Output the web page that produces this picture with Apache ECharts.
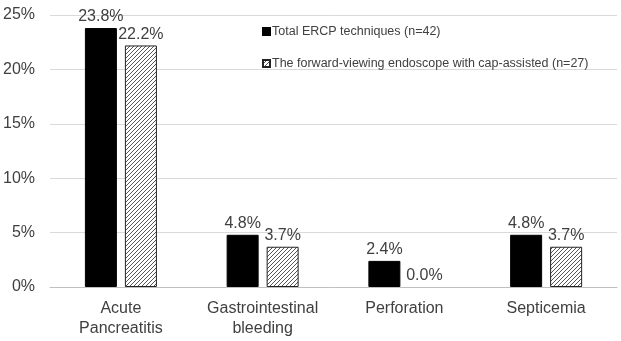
<!DOCTYPE html>
<html>
<head>
<meta charset="utf-8">
<script src="https://cdn.jsdelivr.net/npm/echarts@6/dist/echarts.min.js"></script>
<style>
  html, body { margin: 0; padding: 0; background: #fff; }
  #chart { width: 621px; height: 341px; }
</style>
</head>
<body>
<div id="chart"></div>
<script>
// 数据
var categories = ["Acute\nPancreatitis", "Gastrointestinal\nbleeding", "Perforation", "Septicemia"];
var seriesNames = ["Total ERCP techniques (n=42)", "The forward-viewing endoscope with cap-assisted (n=27)"];
var totalVals = [23.8, 4.8, 2.4, 4.8];
var capVals = [22.2, 3.7, 0.0, 3.7];

// 斜线填充
function makeHatch() {
  var c = document.createElement("canvas");
  c.width = 4;
  c.height = 4;
  var ctx = c.getContext("2d");
  ctx.fillStyle = "#fff";
  ctx.fillRect(0, 0, 4, 4);
  ctx.strokeStyle = "#555";
  ctx.lineWidth = 1;
  ctx.beginPath();
  ctx.moveTo(0, 4); ctx.lineTo(4, 0);
  ctx.moveTo(-1, 1); ctx.lineTo(1, -1);
  ctx.moveTo(3, 5); ctx.lineTo(5, 3);
  ctx.stroke();
  return c;
}

var textColor = "#404040";
var font = "Liberation Sans, Arial, sans-serif";
var myChart = echarts.init(document.getElementById("chart"));

var labelOpt = {
  show: true,
  position: "top",
  distance: 3,
  color: textColor,
  fontSize: 16,
  fontFamily: font,
  formatter: function (p) { return p.value.toFixed(1) + "%"; }
};

// 0值不画边框
function toItems(arr) {
  return arr.map(function (v) {
    return v === 0 ? { value: v, itemStyle: { borderWidth: 0, color: "rgba(0,0,0,0)" } } : v;
  });
}

var option = {
  animation: false,
  grid: { left: 50, right: 4, top: 15, bottom: 54 },
  legend: {
    orient: "vertical",
    left: 257,
    top: 20,
    itemGap: 19,
    itemWidth: 7,
    itemHeight: 7,
    icon: "rect",
    textStyle: { color: textColor, fontSize: 12.5, fontFamily: font, padding: [0, 0, 0, -3] },
    data: seriesNames
  },
  xAxis: {
    type: "category",
    data: categories,
    axisLine: { lineStyle: { color: "#bfbfbf", width: 1 } },
    axisTick: { show: false },
    axisLabel: { interval: 0, color: textColor, fontSize: 16, fontFamily: font, margin: 12, lineHeight: 20 }
  },
  yAxis: {
    type: "value",
    min: 0,
    max: 25,
    interval: 5,
    axisLine: { show: false },
    axisTick: { show: false },
    splitLine: { lineStyle: { color: "#d9d9d9", width: 1 } },
    axisLabel: { color: textColor, fontSize: 16, fontFamily: font, margin: 15, formatter: "{value}%" }
  },
  series: [
    {
      name: seriesNames[0],
      type: "bar",
      data: toItems(totalVals),
      barWidth: 32,
      barGap: "25%",
      itemStyle: { color: "#000", borderColor: "#000", borderWidth: 1 },
      label: labelOpt
    },
    {
      name: seriesNames[1],
      type: "bar",
      data: toItems(capVals),
      barWidth: 32,
      itemStyle: { color: { image: makeHatch(), repeat: "repeat" }, borderColor: "#222", borderWidth: 1 },
      label: labelOpt
    }
  ]
};

myChart.setOption(option);
</script>
</body>
</html>
